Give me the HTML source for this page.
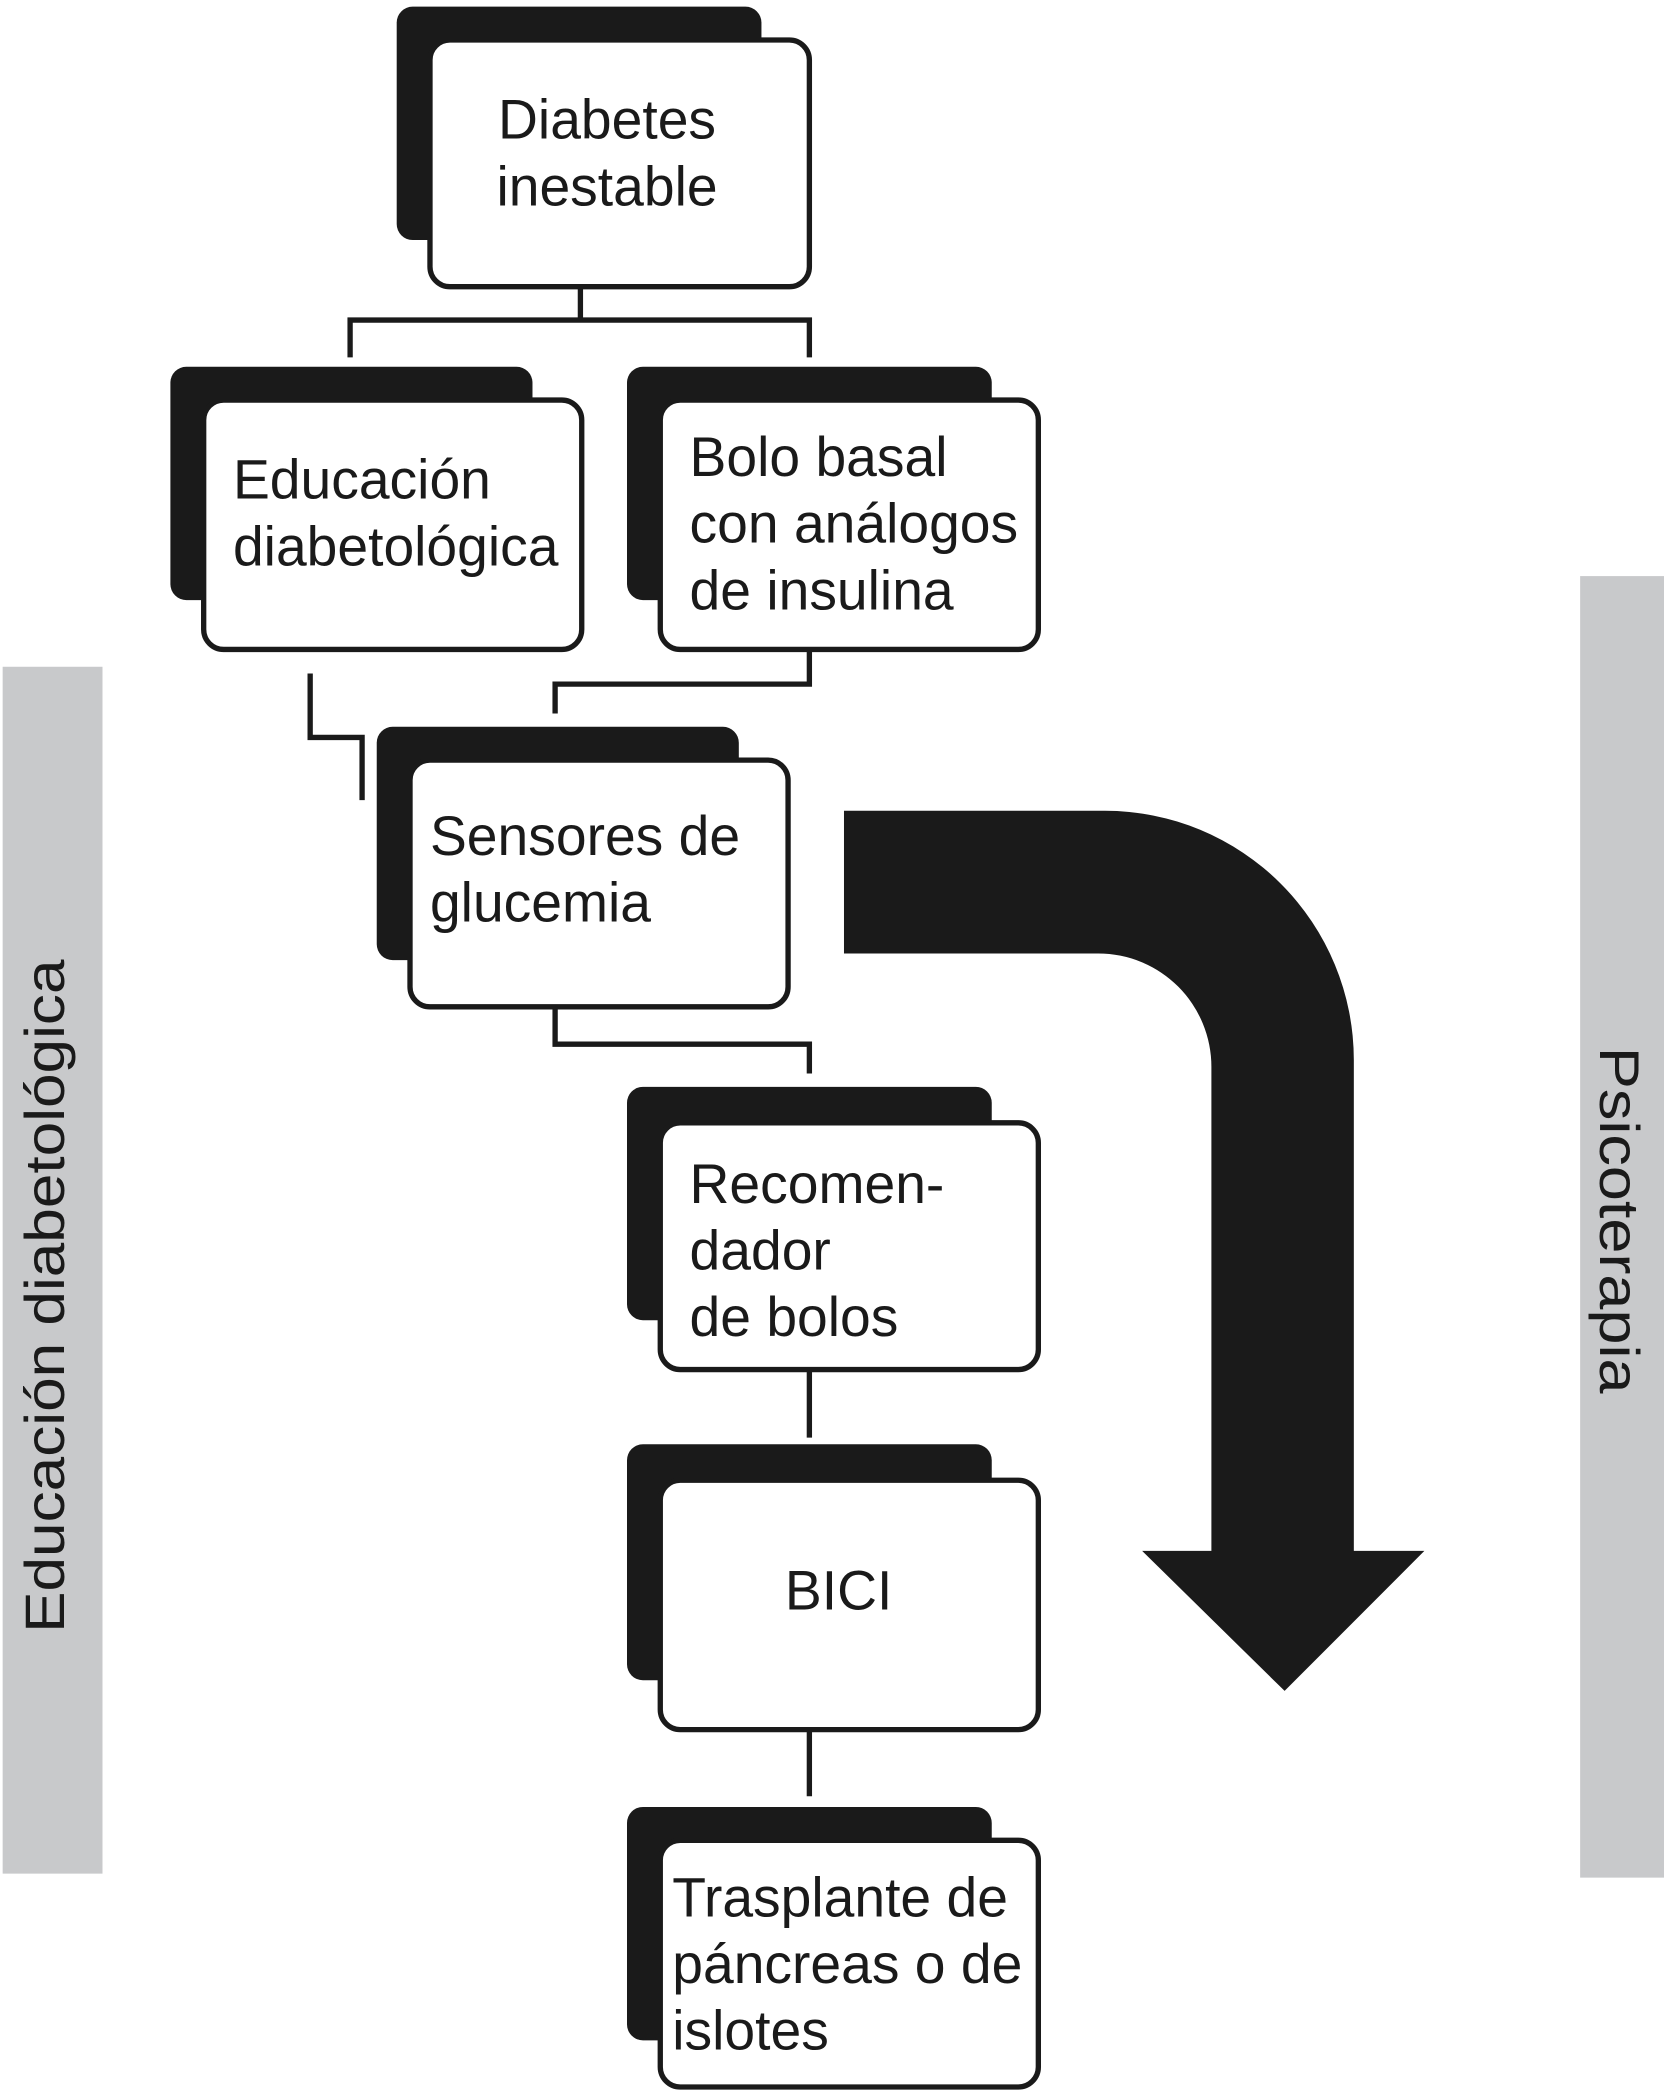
<!DOCTYPE html>
<html><head><meta charset="utf-8"><style>
html,body{margin:0;padding:0;background:#fff;}
svg{display:block;}
text{font-family:"Liberation Sans",Arial,sans-serif;font-size:41.5px;fill:#1a1a1a;}
</style></head><body>
<svg width="1668" height="2091" viewBox="0 0 1253 1568" preserveAspectRatio="none" xmlns="http://www.w3.org/2000/svg">
<rect x="0" y="0" width="1253" height="1568" fill="#fff"/>
<rect x="2" y="500" width="75" height="905" fill="#c8c9cb"/>
<rect x="1187" y="432" width="63" height="976" fill="#c8c9cb"/>
<text transform="translate(48,972) rotate(-90)" text-anchor="middle" font-size="50" textLength="505" lengthAdjust="spacingAndGlyphs">Educación diabetológica</text>
<text transform="translate(1202,915) rotate(90)" text-anchor="middle" font-size="52" textLength="260" lengthAdjust="spacingAndGlyphs">Psicoterapia</text>
<g fill="none" stroke="#1a1a1a" stroke-width="4">
<path d="M436,215 V240 M263,268 V240 H608 V268"/>
<path d="M233,505 V553 H272 V600"/>
<path d="M608,487 V513 H417 V535"/>
<path d="M417,755 V783 H608 V805"/>
<path d="M608,1027 V1078"/>
<path d="M608,1297 V1347"/>
</g>
<path d="M634,608 L830,608 A187,187 0 0 1 1017,795 L1017,1163 L1070,1163 L965,1268 L858,1163 L910,1163 L910,800 A85,85 0 0 0 825,715 L634,715 Z" fill="#1a1a1a"/>
<g>
<rect x="298" y="5" width="274" height="175" rx="12" fill="#1a1a1a"/>
<rect x="323" y="30" width="285" height="185" rx="15" fill="#fff" stroke="#1a1a1a" stroke-width="4"/>
<text x="456" y="104" text-anchor="middle">Diabetes</text>
<text x="456" y="154" text-anchor="middle">inestable</text>

<rect x="128" y="275" width="272" height="175" rx="12" fill="#1a1a1a"/>
<rect x="153" y="300" width="284" height="187" rx="15" fill="#fff" stroke="#1a1a1a" stroke-width="4"/>
<text x="175" y="374">Educación</text>
<text x="175" y="424">diabetológica</text>

<rect x="471" y="275" width="274" height="175" rx="12" fill="#1a1a1a"/>
<rect x="496" y="300" width="284" height="187" rx="15" fill="#fff" stroke="#1a1a1a" stroke-width="4"/>
<text x="518" y="357">Bolo basal</text>
<text x="518" y="407">con análogos</text>
<text x="518" y="457">de insulina</text>

<rect x="283" y="545" width="272" height="175" rx="12" fill="#1a1a1a"/>
<rect x="308" y="570" width="284" height="185" rx="15" fill="#fff" stroke="#1a1a1a" stroke-width="4"/>
<text x="323" y="641">Sensores de</text>
<text x="323" y="691">glucemia</text>

<rect x="471" y="815" width="274" height="175" rx="12" fill="#1a1a1a"/>
<rect x="496" y="842" width="284" height="185" rx="15" fill="#fff" stroke="#1a1a1a" stroke-width="4"/>
<text x="518" y="902">Recomen-</text>
<text x="518" y="952">dador</text>
<text x="518" y="1002">de bolos</text>

<rect x="471" y="1083" width="274" height="177" rx="12" fill="#1a1a1a"/>
<rect x="496" y="1110" width="284" height="187" rx="15" fill="#fff" stroke="#1a1a1a" stroke-width="4"/>
<text x="630" y="1207" text-anchor="middle">BICI</text>

<rect x="471" y="1355" width="274" height="175" rx="12" fill="#1a1a1a"/>
<rect x="496" y="1380" width="284" height="185" rx="15" fill="#fff" stroke="#1a1a1a" stroke-width="4"/>
<text x="505" y="1437">Trasplante de</text>
<text x="505" y="1487">páncreas o de</text>
<text x="505" y="1537">islotes</text>
</g>
</svg>
</body></html>
